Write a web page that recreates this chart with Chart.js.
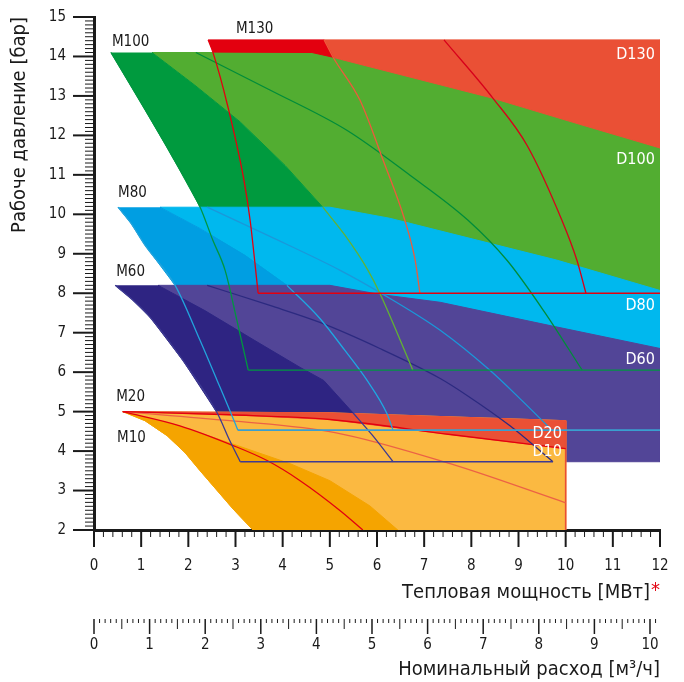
<!DOCTYPE html>
<html lang="ru">
<head>
<meta charset="utf-8">
<title>Рабочее давление / тепловая мощность</title>
<script src="https://cdn.jsdelivr.net/npm/chart.js@4/dist/chart.umd.min.js"></script>
<style>
  html, body { margin: 0; background: #fff; }
  #wrap { width: 684px; height: 682px; }
</style>
</head>
<body>
<div id="wrap"><canvas id="chart" width="684" height="682"></canvas></div>
<script>
const FONT = "'Liberation Sans Narrow', 'DejaVu Sans Condensed', 'Liberation Sans', sans-serif";
const INK = '#1a1a1a';

// axes (x: МВт, y: бар, x2: м³/ч)
const pressureTicks = [2, 3, 4, 5, 6, 7, 8, 9, 10, 11, 12, 13, 14, 15];
const powerTicks = [0, 1, 2, 3, 4, 5, 6, 7, 8, 9, 10, 11, 12];
const flowTicks = [0, 1, 2, 3, 4, 5, 6, 7, 8, 9, 10];
const flowAtMaxPower = 10.18;

// M130 / D130
const m130Top = 14.42;
const m130Floor = 8.0;
const m130Left = [[2.42, 14.42], [2.52, 14.11], [2.84, 12.72], [3.18, 10.86], [3.31, 9.85], [3.48, 8.0]];
const m130Split = [[4.88, 14.42], [5.07, 13.98], [5.64, 12.89], [6.13, 11.37], [6.59, 9.85], [6.81, 8.83], [6.91, 8.0]];
const d130Edge = [[4.62, 14.1], [5.07, 13.98], [5.22, 13.93], [8.46, 12.94], [10.3, 12.28], [12, 11.68]];
const m130Curve = [[7.42, 14.42], [8.46, 12.94], [9.18, 11.75], [9.92, 9.85], [10.24, 8.83], [10.43, 8.0]];

// M100 / D100
const m100Top = 14.1;
const m100Floor = 6.05;
const m100Left = [[0.36, 14.1], [0.97, 12.88], [1.61, 11.57], [2.25, 10.18], [2.52, 9.34], [2.78, 8.58], [3.03, 7.31], [3.27, 6.05]];
const m100Split = [[1.23, 14.1], [2.14, 13.27], [3.10, 12.34], [4.05, 11.24], [4.85, 10.18], [5.32, 9.47], [5.81, 8.58], [6.06, 8.0], [6.76, 6.05]];
const m100Curve = [[2.16, 14.1], [3.73, 13.15], [5.36, 12.13], [6.70, 10.99], [7.93, 9.85], [8.76, 8.83], [9.56, 7.51], [10.35, 6.05]];

// M80 / D80
const m80Floor = 4.53;
const m80Left = [[0.51, 10.18], [0.78, 9.78], [1.08, 9.22], [1.72, 8.2], [2.25, 6.8], [2.61, 5.79], [2.88, 5.03], [3.05, 4.53]];
const m80Split = [[1.40, 10.18], [2.25, 9.64], [3.20, 8.96], [4.09, 8.2], [4.79, 7.36], [5.32, 6.55], [5.79, 5.79], [6.21, 4.95], [6.34, 4.53]];
const d80Edge = [[5.0, 10.18], [6.27, 9.9], [9.81, 8.84], [12, 8.07]];
const m80Curve = [[2.40, 10.18], [3.73, 9.44], [5.22, 8.58], [6.13, 7.97], [7.34, 7.06], [8.40, 6.04], [9.03, 5.33], [9.71, 4.53]];

// M60 / D60
const m60Floor = 3.73;
const m60Left = [[0.45, 8.2], [0.81, 7.84], [1.19, 7.39], [1.89, 6.29], [2.61, 4.97], [2.88, 4.26], [3.10, 3.73]];
const m60Split = [[1.36, 8.2], [2.35, 7.56], [3.41, 6.80], [4.37, 6.12], [4.87, 5.79], [5.49, 4.97], [5.91, 4.39], [6.34, 3.73]];
const d60Edge = [[5.0, 8.2], [6.06, 7.97], [7.34, 7.77], [9.67, 7.18], [12, 6.6]];
const m60Curve = [[2.40, 8.2], [3.73, 7.69], [4.79, 7.26], [6.06, 6.60], [7.34, 5.84], [7.91, 5.41], [8.82, 4.64], [9.73, 3.73]];

// M20 / M10 / D20 / D10
const m10Left = [[0.61, 5.0], [1.08, 4.77], [1.55, 4.39], [1.93, 3.96], [2.25, 3.50], [2.95, 2.53], [3.37, 2.0]];
const m10Split = [[0.61, 5.0], [1.72, 4.67], [2.99, 4.16], [4.16, 3.68], [5.0, 3.25], [5.85, 2.61], [6.44, 2.0]];
const d20Top = [[0.61, 5.0], [5.0, 4.97], [10.0, 4.77]];
const d20Bottom = [[0.61, 5.0], [2.88, 4.92], [5.0, 4.80], [7.55, 4.42], [10.0, 4.06]];
const m10Curve = [[0.61, 5.0], [1.82, 4.64], [2.95, 4.14], [3.67, 3.76], [4.37, 3.25], [5.22, 2.49], [5.70, 2.0]];
const m20Curve = [[0.61, 5.0], [2.88, 4.77], [5.11, 4.47], [7.55, 3.68], [10.0, 2.69]];
const d10Right = 10.0;

const seriesLabels = [
  { text: 'M130', x: 3.01, y: 14.70, color: INK, align: 'left', size: 15 },
  { text: 'M100', x: 0.38, y: 14.37, color: INK, align: 'left', size: 15 },
  { text: 'M80', x: 0.51, y: 10.53, color: INK, align: 'left', size: 15 },
  { text: 'M60', x: 0.47, y: 8.53, color: INK, align: 'left', size: 15 },
  { text: 'M20', x: 0.47, y: 5.38, color: INK, align: 'left', size: 15 },
  { text: 'M10', x: 0.49, y: 4.34, color: INK, align: 'left', size: 15 },
  { text: 'D130', x: 11.89, y: 14.04, color: '#fff', align: 'right', size: 16 },
  { text: 'D100', x: 11.89, y: 11.37, color: '#fff', align: 'right', size: 16 },
  { text: 'D80', x: 11.89, y: 7.69, color: '#fff', align: 'right', size: 16 },
  { text: 'D60', x: 11.89, y: 6.32, color: '#fff', align: 'right', size: 16 },
  { text: 'D20', x: 9.92, y: 4.44, color: '#fff', align: 'right', size: 16 },
  { text: 'D10', x: 9.92, y: 3.98, color: '#fff', align: 'right', size: 16 }
];

const rev = a => a.slice().reverse();
const pts = a => a.map(([x, y]) => ({ x, y }));

function area(points, color, order) {
  return {
    data: pts(points), fill: 'shape', backgroundColor: color, borderColor: color,
    borderWidth: 1, pointRadius: 0, tension: 0, order
  };
}
function curve(points, color, width) {
  return {
    data: pts(points), fill: false, borderColor: color, borderWidth: width || 1.3,
    pointRadius: 0, cubicInterpolationMode: 'monotone', order: 0
  };
}

const datasets = [
  // fills, back to front
  area([...m100Left, ...rev(m100Split)], '#009a3e', 9),
  area([m100Split[0], [12, m100Top], [12, m100Floor], ...rev(m100Split)], '#52ad31', 9),
  area([m130Left[0], m130Split[0], m130Split[1], d130Edge[0], m130Left[1]], '#e3000f', 8),
  area([m130Split[0], [12, m130Top], ...rev(d130Edge.slice(1))], '#ea5035', 8),
  area([...m80Left, ...rev(m80Split)], '#009ee2', 7),
  area([m80Split[0], ...d80Edge, [12, m80Floor], ...rev(m80Split)], '#00b8ee', 7),
  area([...m60Left, ...rev(m60Split)], '#2e2482', 6),
  area([m60Split[0], ...d60Edge, [12, m60Floor], ...rev(m60Split)], '#524597', 6),
  area([...d20Top, [d10Right, 2], ...rev(m10Left)], '#fbb941', 5),
  area([...m10Left, ...rev(m10Split)], '#f5a400', 4),
  area([...d20Top, ...rev(d20Bottom)], '#ea5035', 4),
  // lines
  curve(m130Left, '#e3000f'),
  curve([m130Left[m130Left.length - 1], [12, m130Floor]], '#e3000f'),
  curve(m130Split, '#ee5a3c'),
  curve(m130Curve, '#d8001a'),
  curve(m100Left, '#009640'),
  curve([m100Left[m100Left.length - 1], [12, m100Floor]], '#009640'),
  curve(m100Split.slice(4), '#62b233'),
  curve(m100Curve, '#008c3a'),
  curve(m80Left, '#22a3dc'),
  curve([m80Left[m80Left.length - 1], [12, m80Floor]], '#3a9fcf', 1.6),
  curve(m80Split.slice(3), '#1ea8e2'),
  curve(m80Curve, '#1a98da'),
  curve(m60Left, '#3d3a92'),
  curve([m60Left[m60Left.length - 1], m60Curve[m60Curve.length - 1]], '#3d3a92', 1.6),
  curve(m60Split.slice(5), '#3d3a92'),
  curve(m60Curve, '#2c2a80'),
  curve(m10Curve, '#e3000f'),
  curve(d20Bottom, '#e3000f'),
  curve(m20Curve, '#ec6245'),
  curve([[d10Right, 4.77], [d10Right, 2]], '#e94e35', 1.6)
];

const fromList = list => scale => { scale.ticks = list.map(v => ({ value: v })); };

const rulers = {
  id: 'rulers',
  afterDraw(chart) {
    const { ctx, scales: { x, y, x2 } } = chart;
    ctx.save();
    ctx.strokeStyle = INK;
    const stroke = (x1, y1, xb, yb, w) => {
      ctx.lineWidth = w;
      ctx.beginPath(); ctx.moveTo(x1, y1); ctx.lineTo(xb, yb); ctx.stroke();
    };
    for (let i = 20; i <= 150; i++) {
      const py = y.getPixelForValue(i / 10);
      const major = i % 10 === 0;
      stroke(y.right - (major ? 21 : 9), py, y.right, py, major ? 2 : 1);
    }
    for (let i = 0; i <= 60; i++) {
      const px = x.getPixelForValue(i / 5);
      const major = i % 5 === 0;
      stroke(px, x.top, px, x.top + (major ? 17 : 7), major ? 2 : 1);
    }
    for (let i = 0; i <= 101; i++) {
      const px = x2.getPixelForValue(i / 10);
      const len = i % 10 === 0 ? 15 : (i % 5 === 0 ? 10 : 4);
      stroke(px, x2.top + 14, px, x2.top + 14 + len, i % 10 === 0 ? 1.5 : 1);
    }
    // x title with red asterisk
    ctx.font = `20px ${FONT}`;
    ctx.textAlign = 'right';
    ctx.textBaseline = 'middle';
    const sw = ctx.measureText('*').width;
    ctx.fillStyle = '#e30613';
    ctx.fillText('*', x.right, x.bottom - 14);
    ctx.fillStyle = INK;
    ctx.fillText('Тепловая мощность [МВт]', x.right - sw - 1, x.bottom - 12);
    ctx.restore();
  },
  afterDatasetsDraw(chart) {
    const { ctx, scales: { x, y } } = chart;
    ctx.save();
    ctx.textBaseline = 'middle';
    for (const l of seriesLabels) {
      ctx.font = `${l.size}px ${FONT}`;
      ctx.fillStyle = l.color;
      ctx.textAlign = l.align;
      ctx.fillText(l.text, x.getPixelForValue(l.x), y.getPixelForValue(l.y));
    }
    ctx.restore();
  }
};

new Chart(document.getElementById('chart'), {
  type: 'line',
  data: { datasets },
  plugins: [rulers],
  options: {
    responsive: false,
    animation: false,
    events: [],
    layout: { padding: { left: 0, right: 24, top: 17, bottom: 0 } },
    plugins: { legend: { display: false }, tooltip: { enabled: false } },
    scales: {
      x: {
        type: 'linear', position: 'bottom', min: 0, max: 12,
        afterBuildTicks: fromList(powerTicks),
        afterFit: s => { s.height = 75; },
        grid: { display: false, tickLength: 24 },
        border: { display: true, color: INK, width: 3 },
        ticks: { padding: 3, color: INK, font: { family: FONT, size: 15 }, maxRotation: 0 }
      },
      x2: {
        type: 'linear', position: 'bottom', min: 0, max: flowAtMaxPower,
        afterBuildTicks: fromList(flowTicks),
        afterFit: s => { s.height = 77; },
        grid: { display: false, tickLength: 28 },
        border: { display: false },
        ticks: { padding: 3, color: INK, font: { family: FONT, size: 15 }, maxRotation: 0 },
        title: {
          display: true, text: 'Номинальный расход [м³/ч]', align: 'end', color: INK,
          font: { family: FONT, size: 20 }, padding: { top: 0, bottom: 0 }
        }
      },
      y: {
        type: 'linear', position: 'left', min: 2, max: 15,
        afterBuildTicks: fromList(pressureTicks),
        afterFit: s => { s.width = 94; },
        grid: { display: false, tickLength: 25 },
        border: { display: true, color: INK, width: 3 },
        ticks: { padding: 3, color: INK, font: { family: FONT, size: 15 } },
        title: {
          display: true, text: 'Рабоче давление [бар]', align: 'end', color: INK,
          font: { family: FONT, size: 20 }, padding: { top: 8, bottom: 0 }
        }
      }
    }
  }
});
</script>
</body>
</html>
